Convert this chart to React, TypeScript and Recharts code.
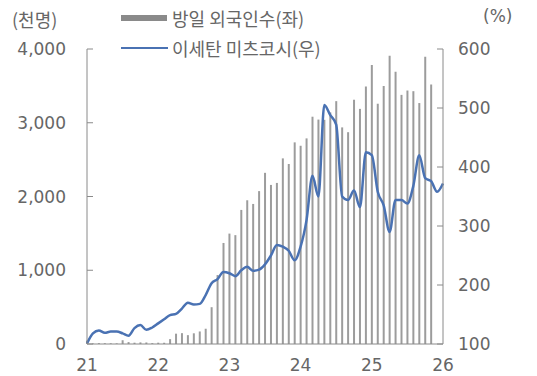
import { ComposedChart, Bar, Line, XAxis, YAxis } from "recharts";

// month index 0 = Jan 2021
const visitors = [
  46, 7, 12, 11, 10, 9, 51, 26, 18, 22, 21, 12,
  18, 17, 66, 140, 147, 120, 145, 170, 207, 499, 935, 1370,
  1497, 1476, 1818, 1949, 1899, 2073, 2321, 2157, 2184, 2517, 2441, 2734,
  2688, 2788, 3082, 3043, 3040, 3140, 3293, 2937, 2872, 3312, 3188, 3490,
  3782, 3258, 3498, 3909, 3693, 3378, 3437, 3428, 3267, 3896, 3518,
];

const isetan = [
  101, 118, 123, 119, 121, 121, 118, 114, 127, 132, 124, 128,
  135, 142, 149, 151, 160, 170, 167, 168, 183, 203, 210, 222,
  220, 215, 225, 231, 224, 226, 235, 250, 268, 265, 258, 242,
  265, 310, 385, 350, 505, 488, 472, 350, 344, 360, 332, 425,
  420, 358, 335, 290, 344, 344, 338, 368, 420, 381, 376, 358,
  372,
];

const yearTicks = [0, 12, 24, 36, 48, 60];
const yearLabels = ["21", "22", "23", "24", "25", "26"];
const leftTicks = [0, 1000, 2000, 3000, 4000];
const rightTicks = [100, 200, 300, 400, 500, 600];

const data = isetan.map((v, i) => ({
  m: i,
  visitors: visitors[i],
  isetan: v,
}));

const AXIS = "#8a8a8a";
const TEXT = "#666666";
const NUM_FONT = "'DejaVu Sans', sans-serif";
const KR_FONT = "'Noto Sans CJK KR', sans-serif";

const LeftTick = (props: any) => {
  const { x, y, payload } = props;
  return (
    <g>
      <line x1={x + 21} x2={x + 27} y1={y} y2={y} stroke={AXIS} />
      <text x={x} y={y} dy="0.355em" textAnchor="end" fill={TEXT} fontSize={17} fontFamily={NUM_FONT}>
        {payload.value.toLocaleString("en-US")}
      </text>
    </g>
  );
};

const RightTick = (props: any) => {
  const { x, y, payload } = props;
  return (
    <g>
      <line x1={x - 15} x2={x - 21} y1={y} y2={y} stroke={AXIS} />
      <text x={x} y={y} dy="0.355em" textAnchor="start" fill={TEXT} fontSize={17} fontFamily={NUM_FONT}>
        {payload.value}
      </text>
    </g>
  );
};

export default function App() {
  return (
    <div style={{ position: "relative", width: 537, height: 376, background: "#fff" }}>
      <style>{"body{margin:0}"}</style>
      <ComposedChart width={537} height={376} data={data} margin={{ top: 49, right: 0, bottom: 0, left: 0 }}>
        <XAxis
          dataKey="m"
          type="number"
          domain={[0, 60]}
          ticks={yearTicks}
          tickFormatter={(v) => yearLabels[yearTicks.indexOf(v)]}
          height={32}
          stroke={AXIS}
          tickLine={false}
          tickSize={0}
          tickMargin={15}
          tick={{ fill: TEXT, fontSize: 17, fontFamily: NUM_FONT }}
          interval={0}
        />
        <YAxis
          yAxisId="left"
          domain={[0, 4000]}
          ticks={leftTicks}
          width={87}
          stroke={AXIS}
          tickLine={false}
          tickSize={0}
          tickMargin={21}
          tick={<LeftTick />}
          interval={0}
        />
        <YAxis
          yAxisId="right"
          orientation="right"
          domain={[100, 600]}
          ticks={rightTicks}
          width={94}
          stroke={AXIS}
          tickLine={false}
          tickSize={0}
          tickMargin={15}
          tick={<RightTick />}
          interval={0}
        />
        <Bar yAxisId="left" dataKey="visitors" fill="#9c9c9c" barSize={2} isAnimationActive={false} />
        <Line
          yAxisId="right"
          type="monotone"
          dataKey="isetan"
          stroke="#4a72b3"
          strokeWidth={2.5}
          dot={false}
          isAnimationActive={false}
        />
      </ComposedChart>

      <div style={{ position: "absolute", left: 12, top: 6, fontFamily: KR_FONT, fontSize: 18, color: TEXT }}>(천명)</div>
      <div style={{ position: "absolute", left: 483, top: 6, fontFamily: NUM_FONT, fontSize: 17, color: TEXT }}>(%)</div>

      <div style={{ position: "absolute", left: 121, top: 4, fontFamily: KR_FONT, fontSize: 18, color: TEXT, lineHeight: "28px" }}>
        <div style={{ display: "flex", alignItems: "center" }}>
          <span style={{ display: "inline-block", width: 46, height: 6, background: "#8a8a8a", marginRight: 5 }} />
          <span>방일 외국인수(좌)</span>
        </div>
        <div style={{ display: "flex", alignItems: "center", marginTop: 2 }}>
          <span style={{ display: "inline-block", width: 47, height: 2, background: "#4a72b3", marginRight: 4 }} />
          <span>이세탄 미츠코시(우)</span>
        </div>
      </div>
    </div>
  );
}
